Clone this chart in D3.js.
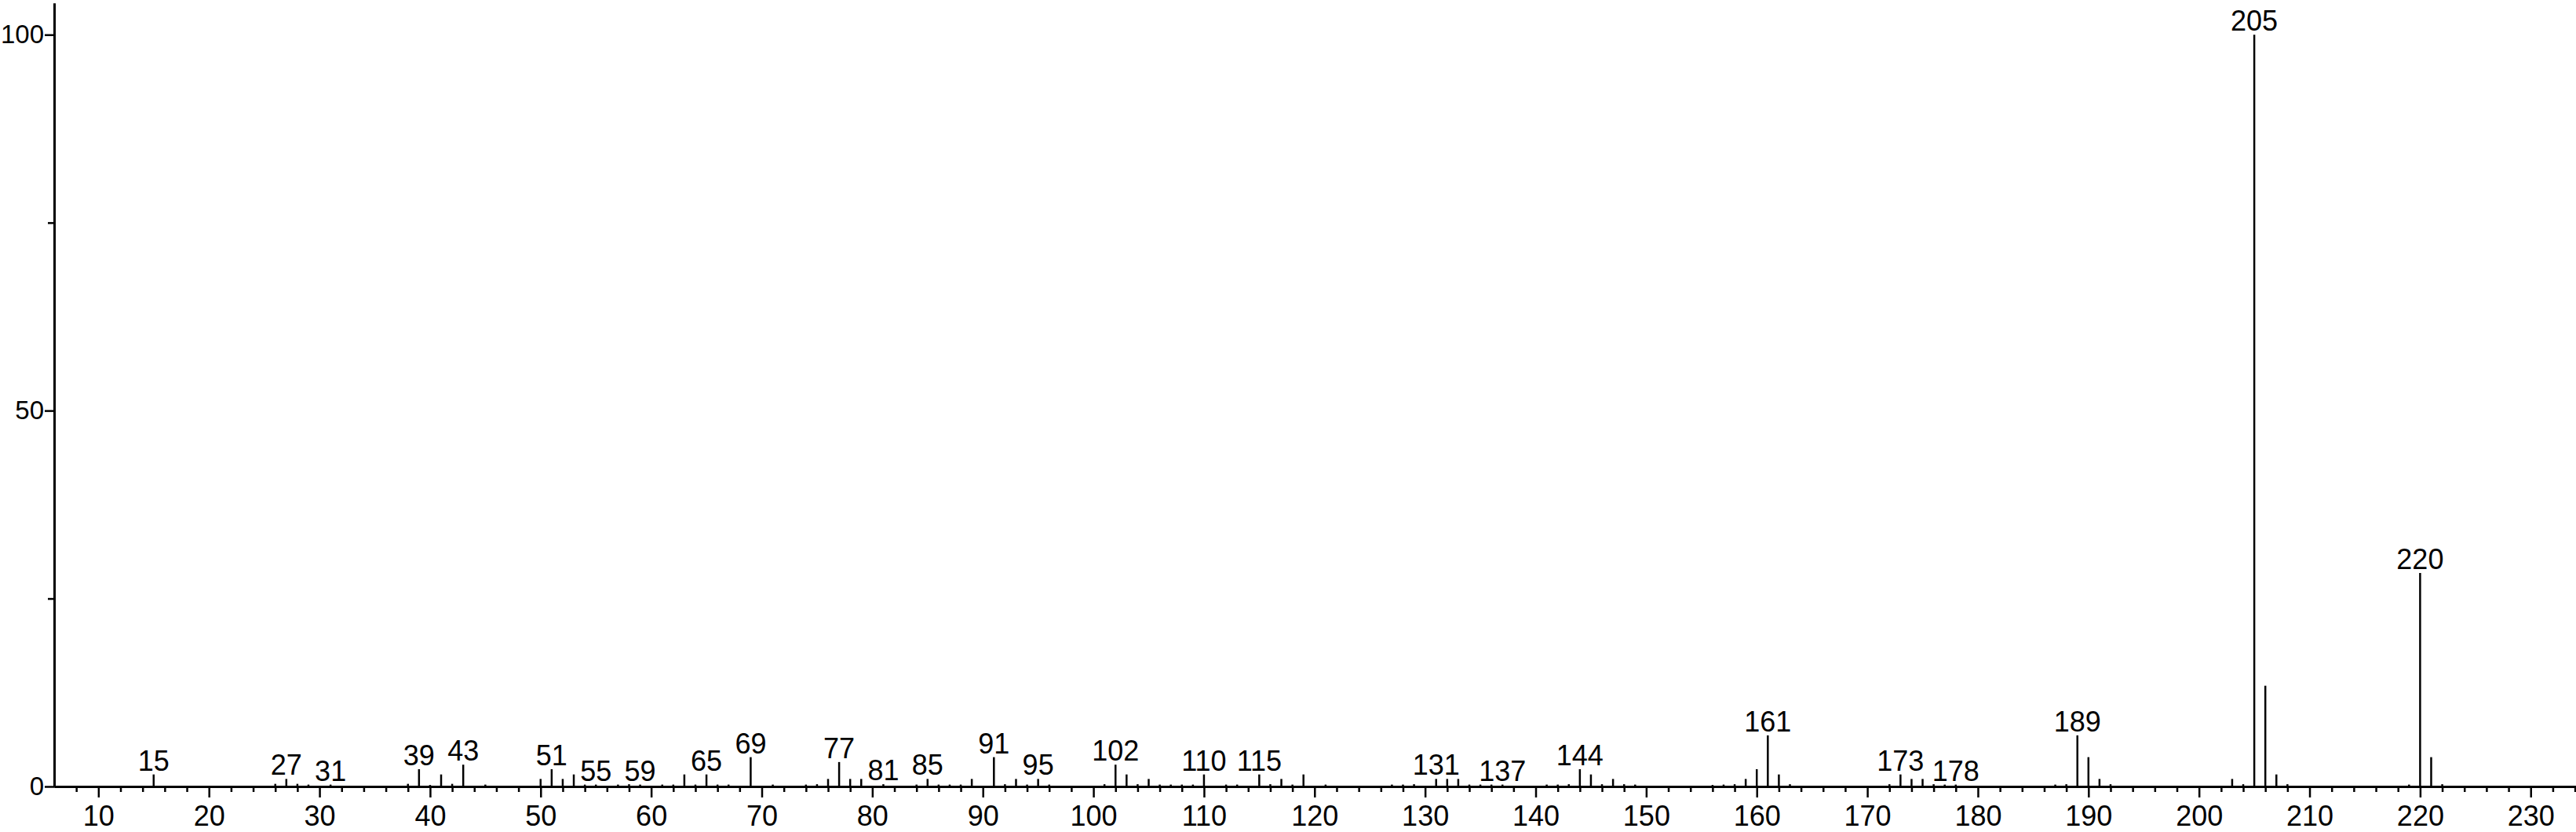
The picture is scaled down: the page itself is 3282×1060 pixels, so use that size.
<!DOCTYPE html>
<html>
<head>
<meta charset="utf-8">
<script src="https://cdn.jsdelivr.net/npm/d3@7"></script>
<style>
	html, body { margin: 0; padding: 0; background: #fff; }
	svg { display: block; }
	text { font-family: "Liberation Sans", Arial, sans-serif; fill: #000; }
</style>
</head>
<body>
<div id="chart"></div>
<script>
// peak positions (m/z) and relative intensities (%)
var mzValues = [15,26,27,28,29,31,38,39,40,41,42,43,45,50,51,52,53,54,55,57,58,59,61,62,63,64,65,66,67,69,
	71,74,75,76,77,78,79,81,84,85,86,87,88,89,91,92,93,94,95,96,101,102,103,104,105,106,107,108,109,110,
	112,113,115,116,117,118,119,121,127,128,129,131,132,133,134,135,136,137,141,142,143,144,145,146,147,148,149,
	156,157,158,159,160,161,162,163,172,173,174,175,176,177,178,187,188,189,190,191,192,
	203,204,205,206,207,208,219,220,221,222];
var intensities = [1.6,0.35,1.0,0.35,0.25,0.25,0.35,2.3,0.2,1.6,0.35,2.9,0.25,1.0,2.3,1.0,1.6,0.25,0.25,0.25,0.3,0.25,0.25,0.25,1.6,0.25,1.6,0.25,0.25,3.9,
	0.25,0.25,0.3,1.0,3.25,1.0,1.0,0.3,0.25,1.0,0.25,0.25,0.25,1.0,3.9,0.3,1.0,0.25,1.0,0.25,0.3,2.9,1.6,0.3,1.0,0.25,0.25,0.25,0.25,1.6,
	0.25,0.25,1.6,0.3,1.0,0.25,1.6,0.25,0.25,0.25,0.3,1.0,1.0,1.0,0.25,0.25,0.25,0.25,0.25,0.25,0.3,2.3,1.6,0.3,1.0,0.3,0.25,
	0.2,0.25,0.3,1.0,2.3,6.8,1.6,0.3,0.3,1.6,1.0,1.0,0.3,0.25,0.25,0.25,0.3,6.8,3.9,1.0,0.3,
	1.0,0.3,100,13.4,1.6,0.3,0.25,28.4,3.9,0.3];
// peaks that carry an m/z label
var labeledPeaks = [15,27,31,39,43,51,55,59,65,69,77,81,85,91,95,102,110,115,131,137,144,161,173,178,189,205,220];

var xMajorTicks = d3.range(10, 231, 10);
var xMinorTicks = d3.range(8, 235, 2).filter(function(d){ return d % 10 !== 0; });
var yMajorTicks = [0, 50, 100];
var yMinorTicks = [25, 75];

var width = 3282;
var height = 1060;
var fontSize = 36;

var svg = d3.select('#chart')
	.append('svg')
	.attr('width', width)
	.attr('height', height);

svg.append('rect')
	.attr('width', width)
	.attr('height', height)
	.attr('fill', '#fff');

var x = d3.scaleLinear()
	.domain([6, 234.1])
	.range([69, width]);

var y = d3.scaleLinear()
	.domain([0, 104.2])
	.range([1002, 4]);

var peaks = mzValues.map(function(mz, i){
	return {mz: mz, value: intensities[i]};
});

function styleAxis(g, size){
	g.select('.domain').attr('stroke', '#000').attr('stroke-width', 3);
	g.selectAll('.tick line').attr('stroke', '#000').attr('stroke-width', 2.5);
	g.selectAll('.tick text')
		.attr('font-size', size || fontSize)
		.attr('font-family', '"Liberation Sans", Arial, sans-serif')
		.attr('fill', '#000');
}

// x axis: minor ticks every 2, major every 10
svg.append('g')
	.attr('transform', 'translate(0,' + y(0) + ')')
	.call(d3.axisBottom(x).tickValues(xMinorTicks).tickSize(7).tickSizeOuter(0).tickFormat(''))
	.call(styleAxis);

svg.append('g')
	.attr('transform', 'translate(0,' + y(0) + ')')
	.call(d3.axisBottom(x).tickValues(xMajorTicks).tickSize(14).tickSizeOuter(0).tickPadding(10))
	.call(styleAxis);

// y axis
svg.append('g')
	.attr('transform', 'translate(' + x(6) + ',0)')
	.call(d3.axisLeft(y).tickValues(yMinorTicks).tickSize(8).tickSizeOuter(0).tickFormat(''))
	.call(styleAxis);

svg.append('g')
	.attr('transform', 'translate(' + x(6) + ',0)')
	.call(d3.axisLeft(y).tickValues(yMajorTicks).tickSize(12).tickSizeOuter(0).tickPadding(1))
	.call(styleAxis, 33);

// peak sticks
svg.append('g')
	.selectAll('line')
	.data(peaks)
	.enter()
	.append('line')
	.attr('x1', function(d){ return x(d.mz); })
	.attr('x2', function(d){ return x(d.mz); })
	.attr('y1', y(0))
	.attr('y2', function(d){ return y(d.value); })
	.attr('stroke', '#000')
	.attr('stroke-width', 2.5);

// labels above chosen peaks
svg.append('g')
	.selectAll('text')
	.data(peaks.filter(function(d){ return labeledPeaks.indexOf(d.mz) >= 0; }))
	.enter()
	.append('text')
	.attr('x', function(d){ return x(d.mz); })
	.attr('y', function(d){ return y(d.value) - 5; })
	.attr('text-anchor', 'middle')
	.attr('font-size', fontSize)
	.text(function(d){ return d.mz; });
</script>
</body>
</html>
